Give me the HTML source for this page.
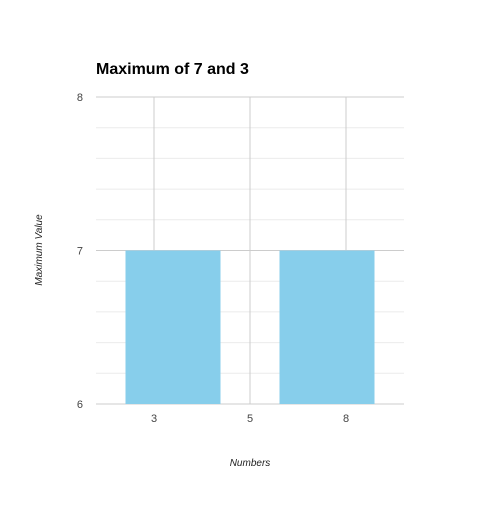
<!DOCTYPE html>
<html><head><meta charset="utf-8"><style>
body{margin:0;background:#fff;font-family:"Liberation Sans",sans-serif}
</style></head><body>
<svg width="500" height="500" id="c">
<rect width="500" height="500" fill="#fff"/>
<text x="96" y="74" font-size="16" font-weight="bold" fill="#000">Maximum of 7 and 3</text>
<g id="grid"></g><g id="bars"></g><g id="labels"></g>
<text x="250" y="466" font-size="10" font-style="italic" text-anchor="middle" fill="#222">Numbers</text>
<text transform="translate(42,250) rotate(-90)" font-size="10" font-style="italic" text-anchor="middle" fill="#222">Maximum Value</text>
</svg>
<script>
const categories = ["3","8"];
const values = [7,7];
const xTicks = ["3","5","8"];
const yTicks = [6,7,8];
const L=96,R=404,T=97,B=404,yMin=6,yMax=8;
const ys=v=>B-(v-yMin)/(yMax-yMin)*(B-T);
const ns="http://www.w3.org/2000/svg";
function mk(t,a,p){const e=document.createElementNS(ns,t);for(const k in a)e.setAttribute(k,a[k]);p.appendChild(e);return e;}
const grid=document.getElementById('grid'),bars=document.getElementById('bars'),labels=document.getElementById('labels');
for(let v=yMin;v<=yMax+1e-9;v+=0.2){const major=Math.abs(v-Math.round(v))<1e-6;
 const l=mk('line',{x1:L,x2:R,y1:ys(v),y2:ys(v),stroke:major?'#ccc':'#ebebeb','stroke-width':1},grid);
 
 }
const tx=i=>154+i*(346-154)/(xTicks.length-1);
xTicks.forEach((t,i)=>{const l=mk('line',{x1:tx(i),x2:tx(i),y1:T,y2:B,stroke:'#ccc'},grid);
 
 
 const s=mk('text',{x:tx(i),y:B+18,'font-size':11,'text-anchor':'middle',fill:'#444'},labels);s.textContent=t;
 
 });
yTicks.forEach(v=>{const s=mk('text',{x:L-13,y:ys(v)+4,'font-size':11,'text-anchor':'end',fill:'#444'},labels);s.textContent=v;
 
 });
const bw=95,band=(R-L)/categories.length;
categories.forEach((c,i)=>{const cx=L+band*(i+0.5);
 const r=mk('rect',{x:cx-bw/2,y:ys(values[i]),width:bw,height:B-ys(values[i]),fill:'#87ceeb'},bars);
 
 });
</script>
</body></html>
